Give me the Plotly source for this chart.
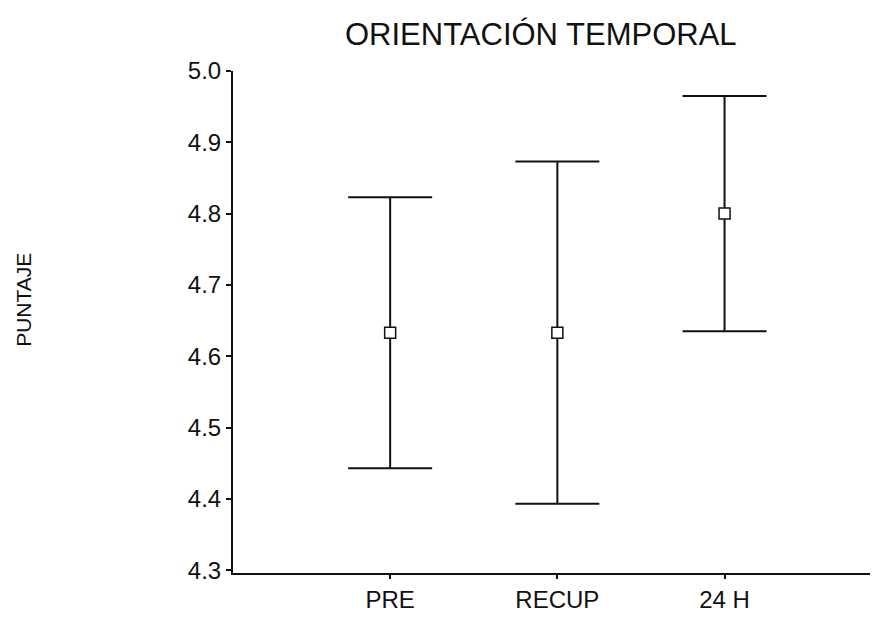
import plotly.graph_objects as go

# Mean score per evaluation moment with its confidence interval half-width
momentos = ["PRE", "RECUP", "24 H"]
media = [4.633, 4.633, 4.800]
error = [0.190, 0.240, 0.165]
pos = [1, 2, 3]

y_ticks = [4.3, 4.4, 4.5, 4.6, 4.7, 4.8, 4.9, 5.0]

FONT = "Liberation Sans, Arial, sans-serif"

fig = go.Figure()
fig.add_trace(go.Scatter(
    x=pos, y=media, mode="markers",
    marker=dict(symbol="square", size=11, color="white",
                line=dict(color="#111111", width=1.5)),
    error_y=dict(type="data", array=error, visible=True,
                 color="#111111", thickness=2, width=42),
    showlegend=False, hoverinfo="skip",
))

fig.update_layout(
    width=874, height=617,
    margin=dict(l=233, r=4, t=71, b=37),
    paper_bgcolor="white", plot_bgcolor="white",
    font=dict(family=FONT, size=24, color="#111111"),
    xaxis=dict(
        range=[0.06, 3.87], tickvals=pos, ticktext=momentos,
        showgrid=False, zeroline=False, showline=True, linecolor="#111111",
        linewidth=2, ticks="outside", ticklen=4, tickwidth=1.5,
        tickcolor="#111111",
    ),
    yaxis=dict(
        range=[4.296, 5.0], tickvals=y_ticks, tickformat=".1f",
        showgrid=False, zeroline=False, showline=True, linecolor="#111111",
        linewidth=2, ticks="outside", ticklen=5, tickwidth=1.5,
        tickcolor="#111111",
    ),
    annotations=[
        dict(text="ORIENTACIÓN TEMPORAL", xref="paper", yref="paper",
             x=(541 - 233) / 637, y=1 + (71 - 34) / 509, xanchor="center",
             yanchor="middle", showarrow=False,
             font=dict(family=FONT, size=31)),
        dict(text="PUNTAJE", xref="paper", yref="paper",
             x=-(233 - 24) / 637, y=(580 - 303) / 509, xanchor="center",
             yanchor="middle", textangle=-90, showarrow=False,
             font=dict(family=FONT, size=21)),
    ],
)

fig.write_html("out.html")
